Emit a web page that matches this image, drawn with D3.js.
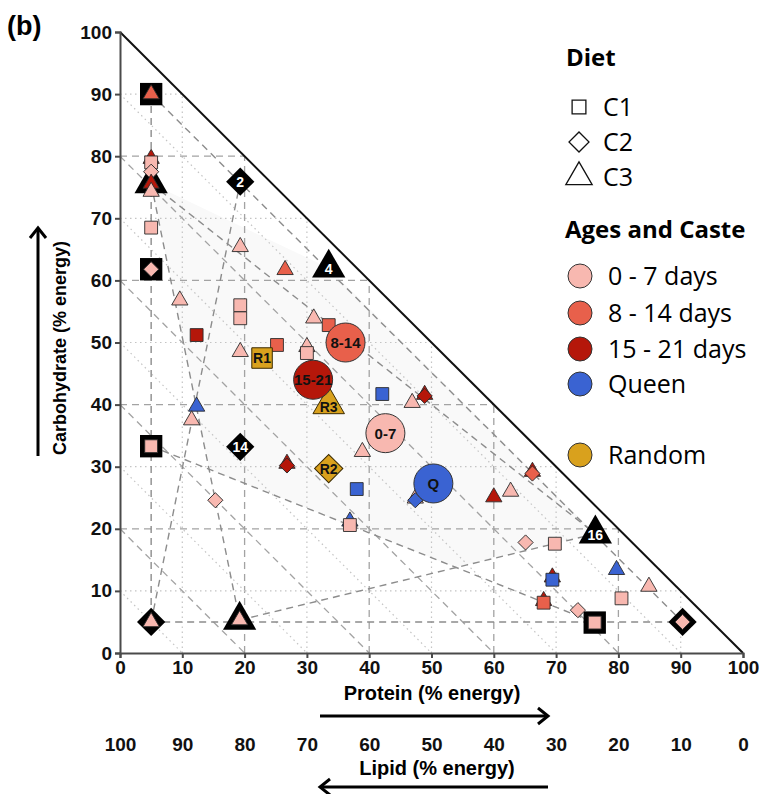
<!DOCTYPE html>
<html>
<head>
<meta charset="utf-8">
<script src="https://cdn.jsdelivr.net/npm/d3@7"></script>
<style>
  body { margin: 0; background: #fff; }
  svg text { font-family: "Liberation Sans", Arial, sans-serif; }
  .legend text { font-family: "Open Sans", "Liberation Sans", sans-serif; }
</style>
</head>
<body>
<svg id="chart" width="763" height="794"></svg>
<script>
// ---- data ----
const ticks = d3.range(0, 101, 10)

const groups = ['0 - 7 days', '8 - 14 days', '15 - 21 days', 'Queen']
const groupColors = ['#f8b8b0', '#e8604b', '#b5170a', '#3a63d2']
const randomColor = '#d9a11d'
const dietNames = ['C1', 'C2', 'C3']

// diet compositions (black symbols), type 0 = C1 square, 1 = C2 diamond, 2 = C3 triangle
const dietProtein = [5, 5, 5, 76.2, 19.3, 19.3, 5, 90.3, 5, 33.5, 19.2, 76.3]
const dietCarb = [90, 61.8, 33.3, 4.9, 75.9, 33.2, 5, 5, 75.6, 62, 5.3, 19.2]
const dietType = [0, 0, 0, 0, 1, 1, 1, 1, 2, 2, 2, 2]
const dietLabel = ['', '', '', '', '2', '14', '', '', '', '4', '', '16']

// dashed rails joining diets (indices into diet arrays)
const railFrom = [0, 6, 0, 8, 6, 2, 10, 8]
const railTo = [6, 7, 7, 10, 4, 3, 11, 11]

// faint shaded region (protein, carbohydrate)
const shadeProtein = [5, 33.5, 76.3, 53.8, 14.3]
const shadeCarb = [75.6, 62, 19.2, 13.8, 29.6]

// individual colony intakes
const ptProtein = [5, 5, 5, 5, 5, 5, 5, 5, 9.6, 12.3, 19.3, 26.5, 19.3, 19.3, 19.3, 25.2, 30, 30, 31.1, 33.5,
  12.3, 11.5, 5, 26.8, 26.8, 15.3, 5, 19.2, 42.1, 46.9, 48.9, 48.9, 38.9, 38, 47.4, 47.4, 36.9, 36.9,
  60, 62.7, 66.2, 66.2, 65.1, 69.8, 79.7, 69.4, 69.4, 84.9, 80.5, 68, 68, 73.5, 76.2, 90.3]
const ptCarb = [90, 79.6, 79, 77.5, 75.6, 74.3, 68.5, 61.8, 56.8, 51.2, 65.4, 61.7, 56, 53.9, 48.5, 49.6, 49.3, 48.3, 53.9, 52.8,
  39.7, 37.5, 33.3, 30.5, 30.2, 24.6, 5, 5.3, 41.7, 40.3, 41.6, 41.4, 32.4, 26.4, 24.9, 24.6, 21.2, 20.6,
  25.1, 26, 29.2, 28.9, 17.8, 17.6, 13.4, 12.2, 11.8, 10.7, 8.8, 8.4, 8.1, 6.9, 4.9, 5]
const ptType = [2, 2, 0, 1, 2, 2, 0, 1, 2, 0, 2, 2, 0, 0, 2, 0, 2, 0, 2, 0,
  2, 2, 0, 2, 1, 1, 2, 2, 0, 2, 2, 1, 2, 0, 2, 1, 2, 0,
  2, 2, 2, 1, 1, 0, 2, 2, 0, 2, 0, 2, 0, 1, 0, 1]
const ptGroup = [1, 2, 0, 0, 2, 0, 0, 0, 0, 2, 0, 1, 0, 0, 0, 1, 0, 0, 0, 1,
  3, 0, 0, 2, 2, 0, 0, 0, 3, 0, 2, 2, 0, 3, 0, 3, 3, 0,
  2, 0, 2, 1, 0, 0, 3, 2, 3, 0, 0, 2, 1, 0, 0, 0]

// group means
const meanProtein = [42.6, 36.2, 31, 50.3]
const meanCarb = [35.4, 50, 44, 27.3]
const meanLabel = ['0-7', '8-14', '15-21', 'Q']

// random diets
const randomProtein = [22.8, 33.5, 33.5]
const randomCarb = [47.5, 29.7, 40]
const randomType = [0, 1, 2]
const randomLabel = ['R1', 'R2', 'R3']

// ---- chart ----
const svg = d3.select('#chart')

const xPositionScale = d3.scaleLinear().domain([0, 100]).range([120, 743])
const yPositionScale = d3.scaleLinear().domain([0, 100]).range([653, 32])
const lipidScale = d3.scaleLinear().domain([100, 0]).range([120, 743])

const symbolTypes = [d3.symbolSquare, d3.symbolSquare, d3.symbolTriangle]
function shapePath(type, size) {
  return d3.symbol().type(symbolTypes[type]).size(size)()
}
function place(p, c, type) {
  const rot = type === 1 ? ' rotate(45)' : ''
  return 'translate(' + xPositionScale(p) + ',' + yPositionScale(c) + ')' + rot
}

// faint shading
svg
  .append('path')
  .attr('d', d3.line()(shadeProtein.map((p, i) => [xPositionScale(p), yPositionScale(shadeCarb[i])])) + 'Z')
  .attr('fill', '#f9f9f9')

// triangular grid: carbohydrate, protein and lipid lines
const gridValues = d3.range(10, 100, 10)
const gridLines = []
gridValues.forEach(k => {
  gridLines.push([[0, k], [100 - k, k], k])
  gridLines.push([[k, 0], [k, 100 - k], k])
  gridLines.push([[0, 100 - k], [100 - k, 0], k])
})

svg
  .selectAll('.grid')
  .data(gridLines)
  .enter()
  .append('line')
  .attr('class', 'grid')
  .attr('x1', d => xPositionScale(d[0][0]))
  .attr('y1', d => yPositionScale(d[0][1]))
  .attr('x2', d => xPositionScale(d[1][0]))
  .attr('y2', d => yPositionScale(d[1][1]))
  .attr('stroke', d => (d[2] % 20 === 0 ? '#a3a3a3' : '#c4c4c4'))
  .attr('stroke-width', d => (d[2] % 20 === 0 ? 1.3 : 1.2))
  .attr('stroke-dasharray', d => (d[2] % 20 === 0 ? '7,5' : '1.5,3.5'))

// rails
svg
  .selectAll('.rail')
  .data(railFrom)
  .enter()
  .append('line')
  .attr('class', 'rail')
  .attr('x1', (d, i) => xPositionScale(dietProtein[d]))
  .attr('y1', (d, i) => yPositionScale(dietCarb[d]))
  .attr('x2', (d, i) => xPositionScale(dietProtein[railTo[i]]))
  .attr('y2', (d, i) => yPositionScale(dietCarb[railTo[i]]))
  .attr('stroke', '#8c8c8c')
  .attr('stroke-width', 1.4)
  .attr('stroke-dasharray', '7,5')

// hypotenuse
svg
  .append('line')
  .attr('x1', xPositionScale(0))
  .attr('y1', yPositionScale(100))
  .attr('x2', xPositionScale(100))
  .attr('y2', yPositionScale(0))
  .attr('stroke', '#111')
  .attr('stroke-width', 2)

// axes
const yAxis = d3.axisLeft(yPositionScale).tickValues(ticks).tickSize(5).tickPadding(3)
const xAxis = d3.axisBottom(xPositionScale).tickValues(ticks).tickSize(5).tickPadding(3)
const lipidAxis = d3.axisBottom(lipidScale).tickValues(ticks).tickSize(0).tickPadding(0)

svg.append('g').attr('class', 'axis y-axis').attr('transform', 'translate(120,0)').call(yAxis)
svg.append('g').attr('class', 'axis x-axis').attr('transform', 'translate(0,653)').call(xAxis)
svg.append('g').attr('class', 'axis lipid-axis').attr('transform', 'translate(0,737)').call(lipidAxis)

svg.selectAll('.axis text')
  .style('font-family', '"Liberation Sans", Arial, sans-serif')
  .style('font-size', '19px')
  .style('font-weight', 'bold')
  .attr('fill', '#111')
svg.selectAll('.y-axis path, .x-axis path, .axis line').attr('stroke', '#4a4a4a').attr('stroke-width', 2)
svg.select('.lipid-axis .domain').remove()

// diets (black)
const dietG = svg
  .selectAll('.diet')
  .data(dietProtein)
  .enter()
  .append('g')
  .attr('class', 'diet')
  .attr('transform', (d, i) => 'translate(' + xPositionScale(d) + ',' + yPositionScale(dietCarb[i]) + ')')

dietG
  .append('path')
  .attr('d', (d, i) => shapePath(dietType[i], [500, 400, 480][dietType[i]]))
  .attr('transform', (d, i) => (dietType[i] === 1 ? 'rotate(45)' : ''))
  .attr('fill', '#000')

dietG
  .append('text')
  .text((d, i) => dietLabel[i])
  .attr('text-anchor', 'middle')
  .attr('dy', (d, i) => (dietType[i] === 2 ? '0.45em' : '0.36em'))
  .attr('fill', '#fff')
  .style('font-size', '14px')
  .style('font-weight', 'bold')

// colony points
svg
  .selectAll('.pt')
  .data(ptProtein)
  .enter()
  .append('path')
  .attr('class', 'pt')
  .attr('d', (d, i) => shapePath(ptType[i], [165, 115, 115][ptType[i]]))
  .attr('transform', (d, i) => place(d, ptCarb[i], ptType[i]))
  .attr('fill', (d, i) => groupColors[ptGroup[i]])
  .attr('stroke', '#2a2a2a')
  .attr('stroke-width', 0.9)

// random diets
const randG = svg
  .selectAll('.rand')
  .data(randomProtein)
  .enter()
  .append('g')
  .attr('class', 'rand')
  .attr('transform', (d, i) => 'translate(' + xPositionScale(d) + ',' + yPositionScale(randomCarb[i]) + ')')

randG
  .append('path')
  .attr('d', (d, i) => shapePath(randomType[i], [420, 400, 430][randomType[i]]))
  .attr('transform', (d, i) => (randomType[i] === 1 ? 'rotate(45)' : ''))
  .attr('fill', randomColor)
  .attr('stroke', '#3a2a00')
  .attr('stroke-width', 1)

randG
  .append('text')
  .text((d, i) => randomLabel[i])
  .attr('text-anchor', 'middle')
  .attr('dy', (d, i) => (randomType[i] === 2 ? '0.5em' : '0.36em'))
  .attr('fill', '#111')
  .style('font-size', '14px')
  .style('font-weight', 'bold')

// group means
const meanG = svg
  .selectAll('.mean')
  .data(meanProtein)
  .enter()
  .append('g')
  .attr('class', 'mean')
  .attr('transform', (d, i) => 'translate(' + xPositionScale(d) + ',' + yPositionScale(meanCarb[i]) + ')')

meanG
  .append('circle')
  .attr('r', 19.5)
  .attr('fill', (d, i) => groupColors[i])
  .attr('stroke', '#333')
  .attr('stroke-width', 1)

meanG
  .append('text')
  .text((d, i) => meanLabel[i])
  .attr('text-anchor', 'middle')
  .attr('dy', '0.36em')
  .attr('fill', '#111')
  .style('font-size', '15px')
  .style('font-weight', 'bold')

// axis titles and arrows
svg.append('text').text('(b)').attr('x', 7).attr('y', 35)
  .style('font-size', '27px').style('font-weight', 'bold')

svg.append('text').text('Protein (% energy)').attr('x', 432).attr('y', 700)
  .attr('text-anchor', 'middle').style('font-size', '20px').style('font-weight', 'bold')
svg.append('text').text('Lipid (% energy)').attr('x', 437).attr('y', 775)
  .attr('text-anchor', 'middle').style('font-size', '20px').style('font-weight', 'bold')
svg.append('text').text('Carbohydrate (% energy)')
  .attr('transform', 'translate(66,348) rotate(-90)')
  .attr('text-anchor', 'middle').style('font-size', '18px').style('font-weight', 'bold')

function arrow(x1, y1, x2, y2) {
  const a = Math.atan2(y2 - y1, x2 - x1) * 180 / Math.PI
  svg.append('line').attr('x1', x1).attr('y1', y1).attr('x2', x2).attr('y2', y2)
    .attr('stroke', '#000').attr('stroke-width', 3)
  svg.append('path').attr('d', 'M-10,-8L0,0L-10,8')
    .attr('transform', 'translate(' + x2 + ',' + y2 + ') rotate(' + a + ')')
    .attr('fill', 'none').attr('stroke', '#000').attr('stroke-width', 3)
}
arrow(320, 716, 548, 716)
arrow(548, 787, 320, 787)
arrow(38, 456, 38, 228)

// legend
const legend = svg.append('g').attr('class', 'legend')

legend.append('text').text('Diet').attr('x', 566).attr('y', 66)
  .style('font-size', '24px').style('font-weight', 'bold')

dietNames.forEach((name, i) => {
  const ly = [107, 142, 177][i]
  legend.append('path')
    .attr('d', shapePath(i, [190, 200, 300][i]))
    .attr('transform', 'translate(579,' + ly + ')' + (i === 1 ? ' rotate(45)' : ''))
    .attr('fill', 'none').attr('stroke', '#111').attr('stroke-width', 1.3)
  legend.append('text').text(name).attr('x', 603).attr('y', ly).attr('dy', '0.36em')
    .style('font-size', '25px')
})

legend.append('text').text('Ages and Caste').attr('x', 565).attr('y', 238)
  .style('font-size', '24px').style('font-weight', 'bold')

const legendNames = groups.concat(['Random'])
const legendColors = groupColors.concat([randomColor])
const legendY = [276, 313, 349, 384, 455]
legendNames.forEach((name, i) => {
  legend.append('circle').attr('cx', 580).attr('cy', legendY[i]).attr('r', 12)
    .attr('fill', legendColors[i]).attr('stroke', '#333').attr('stroke-width', 1)
  legend.append('text').text(name).attr('x', 608).attr('y', legendY[i]).attr('dy', '0.36em')
    .style('font-size', '25px')
})
</script>
</body>
</html>
